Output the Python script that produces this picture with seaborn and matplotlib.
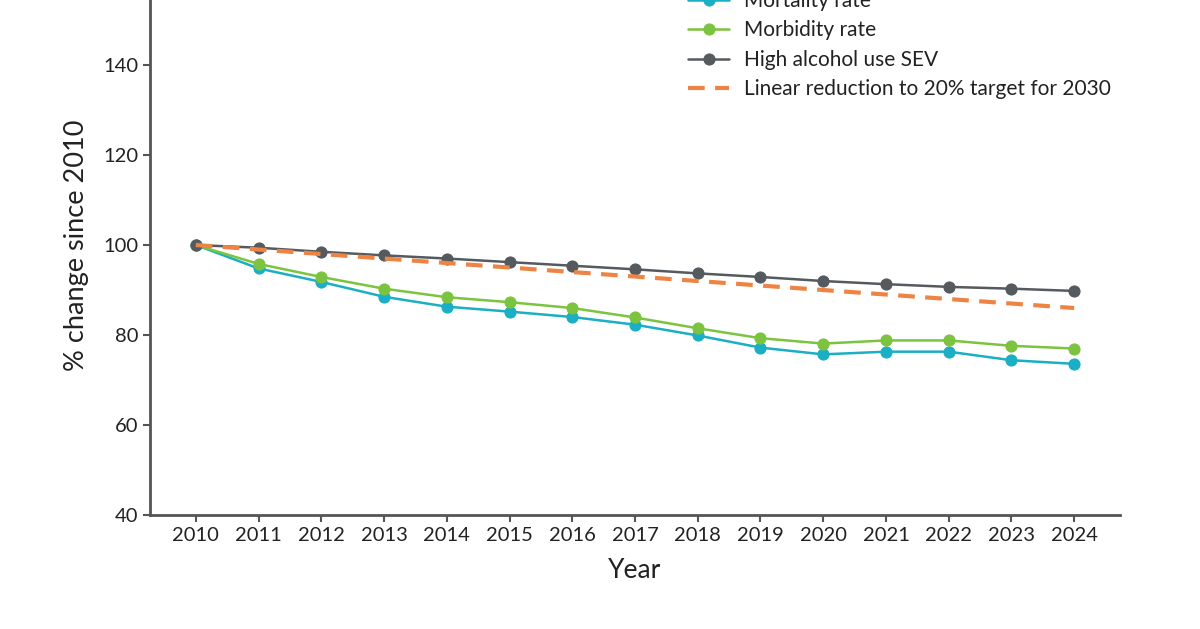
import numpy as np
import pandas as pd
import matplotlib
matplotlib.use("Agg")
import matplotlib.pyplot as plt
import seaborn as sns

years = list(range(2010, 2025))
mortality = [100, 94.8, 91.8, 88.5, 86.3, 85.2, 84.0, 82.3, 79.9, 77.2, 75.7, 76.3, 76.3, 74.4, 73.6]
morbidity = [100, 95.8, 92.9, 90.3, 88.4, 87.3, 86.0, 83.9, 81.5, 79.3, 78.1, 78.8, 78.8, 77.6, 77.0]
alcohol_sev = [100, 99.4, 98.5, 97.7, 97.0, 96.2, 95.4, 94.6, 93.7, 92.9, 92.0, 91.3, 90.7, 90.3, 89.8]
target = [100, 99, 98, 97, 96, 95, 94, 93, 92, 91, 90, 89, 88, 87, 86]

labels = ["Mortality rate", "Morbidity rate", "High alcohol use SEV",
          "Linear reduction to 20% target for 2030"]
colors = ["#1AAFC4", "#7CC33F", "#555A5F", "#EE8443"]

sns.set_style("white")
plt.rcParams['font.family'] = ['Lato', 'DejaVu Sans']

fig = plt.figure(figsize=(12, 6.29), dpi=100)
ax = fig.add_axes([0.125, 0.1812, 0.8083, 0.8585])

series = [mortality, morbidity, alcohol_sev]
for vals, lab, col in zip(series, labels[:3], colors[:3]):
    df = pd.DataFrame({"Year": years, "value": vals})
    sns.lineplot(data=df, x="Year", y="value", ax=ax, color=col, linewidth=1.8,
                 marker="o", markersize=8, markeredgecolor=col, label=lab)

df_t = pd.DataFrame({"Year": years, "value": target})
sns.lineplot(data=df_t, x="Year", y="value", ax=ax, color=colors[3], linewidth=3,
             dashes=False, label=labels[3])
ax.lines[-1].set_linestyle((0, (4, 2.5)))

ax.set_xlim(2009.27, 2024.73)
ax.set_ylim(40, 160)
ax.set_xticks(years)
ax.set_yticks([40, 60, 80, 100, 120, 140])

for s in ["top", "right"]:
    ax.spines[s].set_visible(False)
for s in ["left", "bottom"]:
    ax.spines[s].set_color("#555555")
    ax.spines[s].set_linewidth(2)

ax.tick_params(axis="both", length=5, width=1.5, color="#555555",
               labelsize=14.5, labelcolor="#222222", direction="out", bottom=True, left=True)
ax.set_xlabel("Year", fontsize=19, color="#222222", labelpad=10)
ax.set_ylabel("% change since 2010", fontsize=19.5, color="#222222", labelpad=10)

ax.legend(loc="upper left", bbox_to_anchor=(0.5575, 1.044), bbox_transform=fig.transFigure,
          frameon=False, fontsize=15, handlelength=2.0, labelspacing=0.45,
          handletextpad=0.7, labelcolor="#222222")

fig.savefig("out.png", dpi=100, facecolor="white")
